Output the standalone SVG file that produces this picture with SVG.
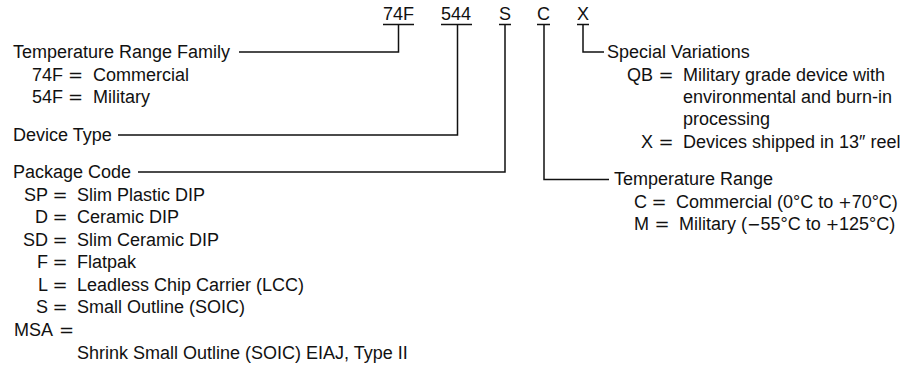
<svg xmlns="http://www.w3.org/2000/svg" width="914" height="370" viewBox="0 0 914 370">
<style>
text{font-family:"Liberation Sans",Arial,Helvetica,sans-serif;font-size:18px;fill:#111}
.eq{font-family:"DejaVu Sans","Liberation Sans",sans-serif;font-size:18px}
.m{font-family:"DejaVu Sans","Liberation Sans",sans-serif;font-size:16px}
.r{text-anchor:end}
.ln{fill:none;stroke:#111;stroke-width:1.5}
</style>
<rect width="914" height="370" fill="#fff"/>
<g id="connectors">
<path class="ln" d="M383,24.5H414M441,24.5H472M499,24.5H511M537,24.5H550M577,24.5H589"/>
<path class="ln" d="M239,52H398.5V24"/>
<path class="ln" d="M118,135H457.5V24"/>
<path class="ln" d="M138,172H505V24"/>
<path class="ln" d="M544,24V179.5H609"/>
<path class="ln" d="M583,24V52H604"/>
</g>
<g id="code">
<text x="383" y="20">74F</text>
<text x="441" y="20">544</text>
<text x="499" y="20">S</text>
<text x="537" y="20">C</text>
<text x="577" y="20">X</text>
</g>
<g id="temp-range-family">
<text x="13" y="58">Temperature Range Family</text>
<text x="63" y="80.5" class="r">74F</text><text x="68" y="80.5" class="eq">=</text><text x="93" y="80.5">Commercial</text>
<text x="63" y="103" class="r">54F</text><text x="68" y="103" class="eq">=</text><text x="93" y="103">Military</text>
</g>
<g id="device-type">
<text x="13" y="141">Device Type</text>
</g>
<g id="package-code">
<text x="13" y="178">Package Code</text>
<text x="48" y="200.5" class="r">SP</text><text x="52.5" y="200.5" class="eq">=</text><text x="77" y="200.5">Slim Plastic DIP</text>
<text x="48" y="223" class="r">D</text><text x="52.5" y="223" class="eq">=</text><text x="77" y="223">Ceramic DIP</text>
<text x="48" y="245.5" class="r">SD</text><text x="52.5" y="245.5" class="eq">=</text><text x="77" y="245.5">Slim Ceramic DIP</text>
<text x="48" y="268" class="r">F</text><text x="52.5" y="268" class="eq">=</text><text x="77" y="268">Flatpak</text>
<text x="48" y="290.5" class="r">L</text><text x="52.5" y="290.5" class="eq">=</text><text x="77" y="290.5">Leadless Chip Carrier (LCC)</text>
<text x="48" y="313" class="r">S</text><text x="52.5" y="313" class="eq">=</text><text x="77" y="313">Small Outline (SOIC)</text>
<text x="14" y="335.5">MSA</text><text x="59" y="335.5" class="eq">=</text>
<text x="77" y="359">Shrink Small Outline (SOIC) EIAJ, Type II</text>
</g>
<g id="special-variations">
<text x="607" y="58">Special Variations</text>
<text x="653" y="80.5" class="r">QB</text><text x="658.5" y="80.5" class="eq">=</text><text x="683" y="80.5">Military grade device with</text>
<text x="683" y="103">environmental and burn-in</text>
<text x="683" y="125">processing</text>
<text x="653" y="147.5" class="r">X</text><text x="658.5" y="147.5" class="eq">=</text><text x="683" y="147.5">Devices shipped in 13″ reel</text>
</g>
<g id="temperature-range">
<text x="614" y="185">Temperature Range</text>
<text x="634" y="207.5">C</text><text x="651.5" y="207.5" class="eq">=</text><text x="676" y="207.5">Commercial (0°C to <tspan class="m">+</tspan>70°C)</text>
<text x="634" y="230">M</text><text x="654.5" y="230" class="eq">=</text><text x="679" y="230">Military (<tspan class="m">−</tspan>55°C to <tspan class="m">+</tspan>125°C)</text>
</g>
</svg>
